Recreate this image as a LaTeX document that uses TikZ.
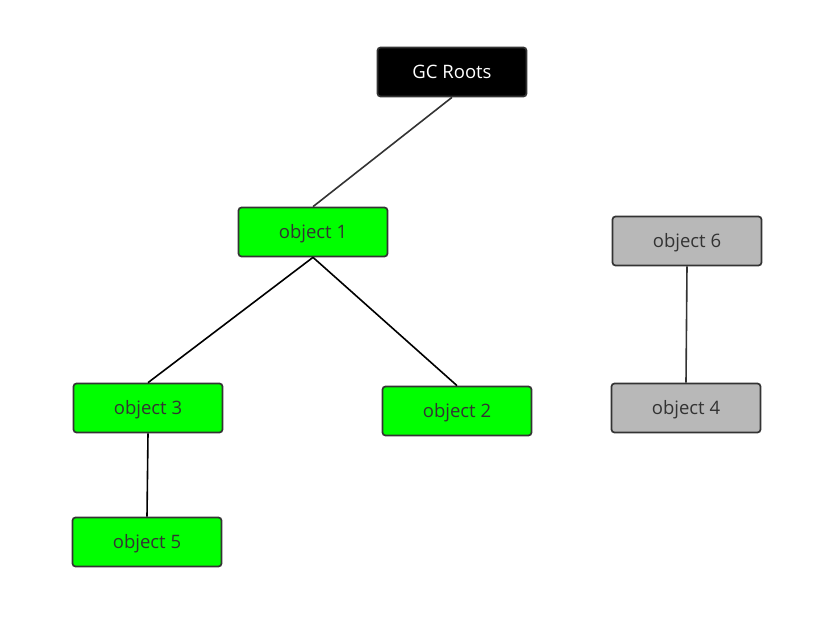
\documentclass[tikz,border=0pt]{standalone}
\usepackage{fontspec}
\setmainfont{Open Sans}
\definecolor{livegreen}{RGB}{0,255,0}
\definecolor{deadgray}{RGB}{184,184,184}
\definecolor{edgegray}{RGB}{51,51,51}
\tikzset{
  objbox/.style={draw=edgegray,line width=1.7pt,rounded corners=3pt,minimum width=149pt,minimum height=49pt,inner sep=0pt,text depth=1pt,text=edgegray,font=\fontsize{18.5}{21}\selectfont},
  live/.style={objbox,fill=livegreen},
  dead/.style={objbox,fill=deadgray},
  rootbox/.style={objbox,fill=black,text=white},
  ref/.style={line width=1.6pt}
}
\begin{document}
\begin{tikzpicture}[x=1pt,y=1pt,yscale=-1,xscale=1]
\useasboundingbox (0,0) rectangle (823,628);
\node [rootbox] (roots) at (452,72) {GC Roots};
\node [live] (obj1) at (313,232) {object 1};
\node [dead] (obj6) at (687,241) {object 6};
\node [live] (obj3) at (148,408) {object 3};
\node [live] (obj2) at (457,411) {object 2};
\node [dead] (obj4) at (686,408) {object 4};
\node [live] (obj5) at (147,542) {object 5};
\draw [ref,color=edgegray] (roots.south) -- (obj1.north);
\draw [ref] (obj1.south) -- (obj3.north);
\draw [ref] (obj1.south) -- (obj2.north);
\draw [ref] (obj3.south) -- (obj5.north);
\draw [ref,color=edgegray] (obj6.south) -- (obj4.north);
\end{tikzpicture}
\end{document}
